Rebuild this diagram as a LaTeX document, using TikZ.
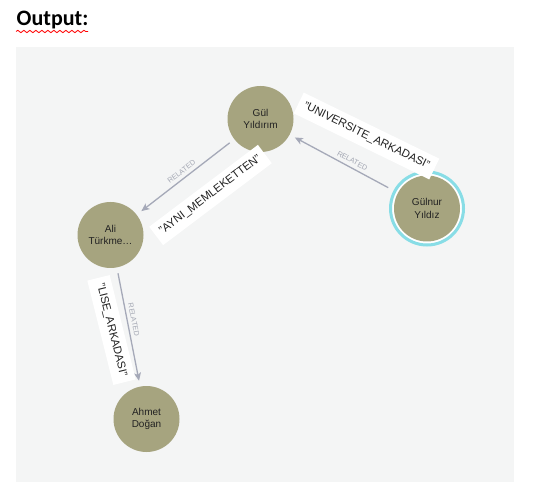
\documentclass[tikz,border=0pt]{standalone}
\usepackage{fontspec}
\setmainfont{Liberation Sans}
\newfontfamily\carl{Carlito}
\usetikzlibrary{arrows.meta,decorations.pathmorphing}
\definecolor{panel}{HTML}{F4F5F5}
\definecolor{nodefill}{HTML}{A6A47F}
\definecolor{edgecol}{HTML}{A5A9B8}
\definecolor{relcol}{HTML}{A3A7B3}
\definecolor{ringcol}{HTML}{88DDE6}
\definecolor{txt}{HTML}{222222}
\begin{document}
\begin{tikzpicture}[x=1pt,y=1pt,
 person/.style={circle,fill=nodefill,minimum size=66pt,inner sep=0pt,outer sep=0pt,align=center,text=txt,font=\fontsize{10}{12.5}\selectfont},
 rel/.style={draw=edgecol,line width=1.3pt,-{Stealth[length=8pt,width=7pt,inset=2pt]},shorten <=6pt,shorten >=6pt},
 rellabel/.style={font=\fontsize{7.3}{8}\selectfont,text=relcol,sloped,above=2.5pt,inner sep=1pt},
 propbox/.style={fill=white,inner xsep=6pt,inner ysep=0pt,minimum height=23pt,font=\fontsize{11.3}{13}\selectfont,text=txt},
 ]
\useasboundingbox (0,0) rectangle (533,-497);
\fill[panel] (16,-47) rectangle (514,-482);
\node[anchor=base west,font=\carl\bfseries\fontsize{22}{24}\selectfont,inner sep=0pt] (title) at (16.5,-25.5) {Output:};
\draw[red,line width=0.8pt,decorate,decoration={snake,segment length=6pt,amplitude=1.2pt}] (16,-31.5) -- (88,-31.5);

\fill[white] (427,-208.5) circle (35);
\draw[ringcol,line width=3pt] (427,-208.5) circle (36.5);
\node[person] (gul) at (260.5,-119) {Gül\\Yıldırım};
\node[person] (gulnur) at (427,-208.5) {Gülnur\\Yıldız};
\node[person] (ali) at (110.5,-235) {Ali\\Türkme…};
\node[person] (ahmet) at (146.5,-419) {Ahmet\\Doğan};

\draw[rel,shorten <=11pt] (gulnur) -- node[rellabel,pos=0.45]{RELATED} (gul);
\draw[rel] (gul) -- node[rellabel]{RELATED} (ali);
\draw[rel] (ali) -- node[rellabel,pos=0.45]{RELATED} (ahmet);

\node[propbox,rotate=-26] (p1) at (366.5,-136) {"UNIVERSITE\_ARKADASI"};
\node[propbox,rotate=37] (p2) at (210.5,-195) {"AYNI\_MEMLEKETTEN"};
\node[propbox,rotate=-76] (p3) at (111.5,-330) {"LISE\_ARKADASI"};
\end{tikzpicture}
\end{document}
